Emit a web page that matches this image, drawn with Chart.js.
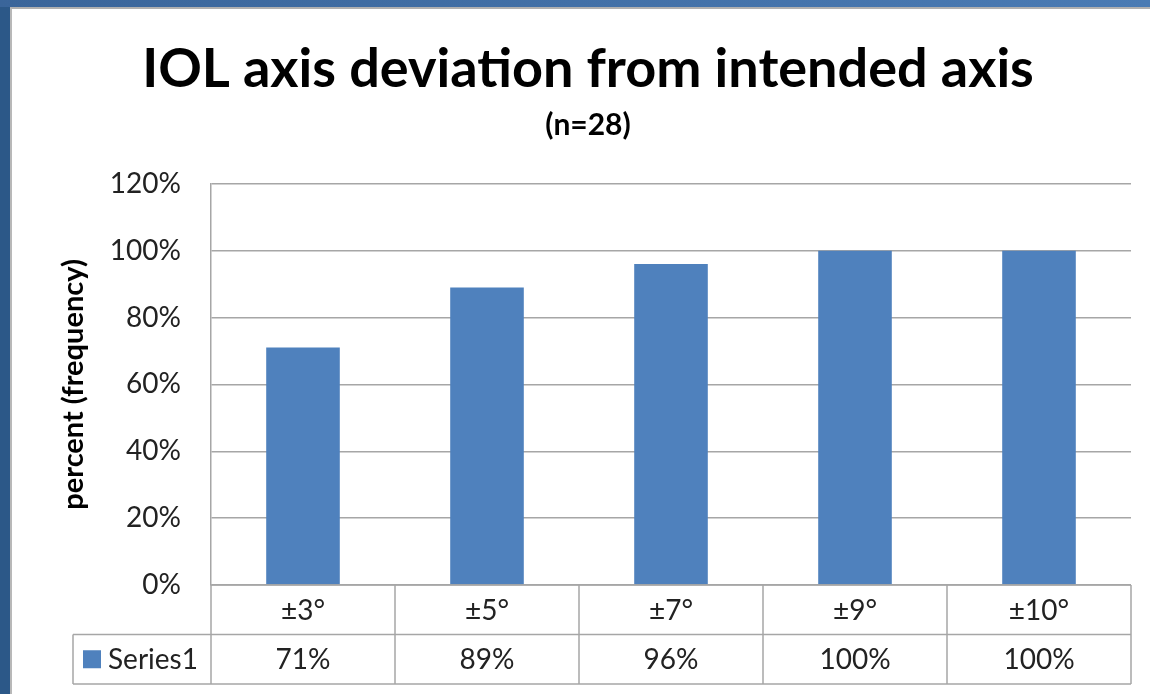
<!DOCTYPE html>
<html>
<head>
<meta charset="utf-8">
<script src="https://cdn.jsdelivr.net/npm/chart.js@4/dist/chart.umd.min.js"></script>
<style>
  html, body { margin: 0; padding: 0; }
  body { width: 1150px; height: 694px; position: relative; overflow: hidden; background: #2c5888; }
  #topband { position: absolute; left: 0; top: 0; width: 1150px; height: 7px;
             background: linear-gradient(to right, #3a659a, #4a7bb4); }
  #panel { position: absolute; left: 10px; top: 7px; right: 0; bottom: 0;
           background: #ffffff; border-left: 2px solid #b8b8b8; border-top: 2px solid #b0b0b0; }
  #chart { position: absolute; left: 0; top: 0; }
</style>
</head>
<body>
<div id="topband"></div>
<div id="panel"></div>
<canvas id="chart" width="1150" height="694"></canvas>
<script>
// Cumulative share of lenses within each deviation band
const categories = ['±3°', '±5°', '±7°', '±9°', '±10°'];
const seriesName = 'Series1';
const seriesValues = [71, 89, 96, 100, 100];
const yTicks = [0, 20, 40, 60, 80, 100, 120];

const BAR = '#4f81bd';
const LINE = '#a6a6a6';
const FONT = 'Lato, "Open Sans", sans-serif';
const TEXT_SIZE = 28;

// Data table under the plot: category row, then the series row with its key
const dataTable = {
  id: 'dataTable',
  afterDraw(chart) {
    const { ctx, chartArea, scales } = chart;
    const x = scales.x;
    const n = categories.length;
    const step = (chartArea.right - chartArea.left) / n;
    const rowH = 49.5;
    const top = chartArea.bottom;
    const mid = top + rowH;
    const bot = top + rowH * 2;
    const keyLeft = 73;

    ctx.save();
    ctx.strokeStyle = LINE;
    ctx.lineWidth = 1.5;
    ctx.beginPath();
    ctx.moveTo(chartArea.left, top); ctx.lineTo(chartArea.right, top);
    ctx.moveTo(keyLeft, mid); ctx.lineTo(chartArea.right, mid);
    ctx.moveTo(keyLeft, bot); ctx.lineTo(chartArea.right, bot);
    ctx.moveTo(keyLeft, mid); ctx.lineTo(keyLeft, bot);
    for (let i = 0; i <= n; i++) {
      const px = chartArea.left + step * i;
      ctx.moveTo(px, top); ctx.lineTo(px, bot);
    }
    ctx.stroke();

    ctx.fillStyle = '#222';
    ctx.font = TEXT_SIZE + 'px ' + FONT;
    ctx.textAlign = 'center';
    ctx.textBaseline = 'middle';
    categories.forEach((c, i) => {
      const cx = x.getPixelForValue(i);
      ctx.fillText(c, cx, top + rowH / 2 + 1);
      ctx.fillText(seriesValues[i] + '%', cx, mid + rowH / 2 + 1);
    });

    ctx.fillStyle = BAR;
    ctx.fillRect(83, mid + rowH / 2 - 9, 18, 18);
    ctx.fillStyle = '#222';
    ctx.textAlign = 'left';
    ctx.fillText(seriesName, 108, mid + rowH / 2 + 1);
    ctx.restore();
  }
};

new Chart(document.getElementById('chart'), {
  type: 'bar',
  data: {
    labels: categories,
    datasets: [{
      label: seriesName,
      data: seriesValues,
      backgroundColor: BAR,
      borderWidth: 0,
      barPercentage: 0.4,
      categoryPercentage: 1.0
    }]
  },
  plugins: [dataTable],
  options: {
    responsive: false,
    animation: false,
    devicePixelRatio: 1,
    layout: { padding: { left: 45, right: 19, top: 0, bottom: 109 } },
    plugins: {
      legend: { display: false },
      tooltip: { enabled: false },
      title: {
        display: true,
        text: 'IOL axis deviation from intended axis',
        color: '#000',
        font: { family: FONT, size: 54, weight: 'bold' },
        padding: { top: 37, bottom: 6 }
      },
      subtitle: {
        display: true,
        text: '(n=28)',
        color: '#000',
        font: { family: FONT, size: 30, weight: 'bold' },
        padding: { top: 0, bottom: 40 }
      }
    },
    scales: {
      x: { display: false },
      y: {
        min: 0,
        max: 120,
        afterBuildTicks(scale) { scale.ticks = yTicks.map(v => ({ value: v })); },
        afterFit(scale) { scale.width = 166; },
        ticks: {
          color: '#222',
          padding: 30,
          font: { family: FONT, size: TEXT_SIZE },
          callback: v => v + '%'
        },
        grid: { color: LINE, lineWidth: 1.5, drawTicks: false },
        border: { display: true, color: LINE, width: 1.5 },
        title: {
          display: true,
          text: 'percent (frequency)',
          color: '#000',
          font: { family: FONT, size: 29, weight: 'bold' },
          padding: { top: 11, bottom: 0 }
        }
      }
    }
  }
});
</script>
</body>
</html>
